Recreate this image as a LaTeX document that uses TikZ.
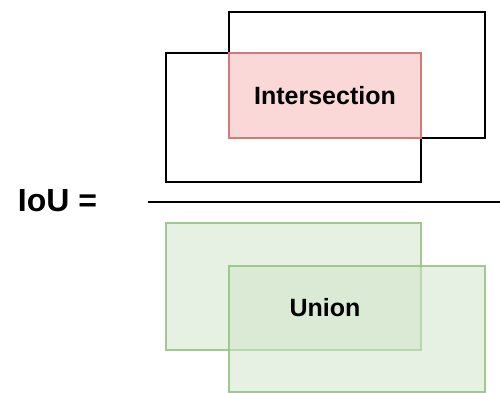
\documentclass[tikz,border=0pt]{standalone}
\usepackage{fontspec}
\setmainfont{Liberation Sans}
\usepackage{tikz}

\definecolor{boxred}{HTML}{F9D8D7}
\definecolor{edgered}{HTML}{D27B76}
\definecolor{boxgreen}{HTML}{CFE4C8}
\definecolor{edgegreen}{HTML}{96C585}

\begin{document}
\begin{tikzpicture}[x=1pt,y=1pt,
    font=\fontsize{25}{30}\selectfont\bfseries,
    bbox/.style={draw,rectangle,inner sep=0pt,line width=1.6pt},
    interbox/.style={bbox,draw=edgered,line width=1.2pt,fill=boxred},
    unionbox/.style={bbox,draw=edgegreen,line width=1.4pt,fill=boxgreen,
        fill opacity=0.5,draw opacity=0.9}]
    \useasboundingbox (0,0) rectangle (500,393);
    \fill[white] (0,0) rectangle (500,393);

    % numerator: two boxes and their overlap
    \node[bbox,minimum width=256,minimum height=126] (boxa) at (357,318) {};
    \node[bbox,minimum width=255,minimum height=129] (boxb) at (293.5,275.5) {};
    \node[interbox,minimum width=192,minimum height=85] (inter) at (325,297.5)
        {Intersection};

    % fraction bar
    \node[font=\fontsize{32}{38}\selectfont\bfseries] (iou) at (57.5,192) {IoU =};
    \coordinate (barl) at (148,191);
    \coordinate (barr) at (500,191);
    \draw[line width=2.4pt] (barl) -- (barr);

    % denominator: both boxes together
    \node[unionbox,minimum width=255,minimum height=127] (grna) at (293.5,106.5) {};
    \node[unionbox,minimum width=256,minimum height=126] (grnb) at (357,64) {};
    \node (union) at (325,85) {Union};
\end{tikzpicture}
\end{document}
